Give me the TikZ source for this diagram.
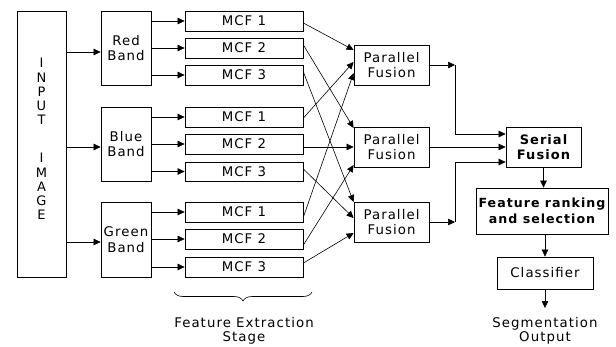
\documentclass[tikz,border=0pt]{standalone}
\usepackage{fontspec}
\setmainfont{DejaVu Sans}[LetterSpace=8]
\usetikzlibrary{arrows.meta,decorations.pathreplacing}
\begin{document}
\begin{tikzpicture}[x=1pt,y=-1pt,
  box/.style={draw, line width=0.8pt, inner sep=0pt, align=center, font=\fontsize{13.3}{15.5}\selectfont},
  mcf/.style={box, minimum width=118pt, minimum height=20pt},
  band/.style={box, minimum width=50pt, minimum height=74pt},
  pf/.style={box, minimum width=75pt, minimum height=40pt},
  lbl/.style={align=center, inner sep=0pt, font=\fontsize{13.3}{14.5}\selectfont},
  arr/.style={-{Triangle[length=7pt,width=6.5pt]}, line width=0.6pt},
  ln/.style={line width=0.6pt}]
\useasboundingbox (0,0) rectangle (616,346);
% input
\node[draw, line width=0.8pt, minimum width=49pt, minimum height=266pt, inner sep=0pt] (inp) at (41.5,144) {};
\node[lbl, font=\fontsize{13}{14.2}\selectfont] (inptxt) at (41.5,139) {I\\N\\P\\U\\T\\[24pt]I\\M\\A\\G\\E};
% bands
\node[band] (rb) at (126,48) {Red\\Band};
\node[band] (bb) at (126,144) {Blue\\Band};
\node[band, minimum height=75pt] (gb) at (126,239.5) {Green\\Band};
% MCFs
\node[mcf] (r1) at (244,21) {MCF 1};
\node[mcf] (r2) at (244,48) {MCF 2};
\node[mcf] (r3) at (244,75) {MCF 3};
\node[mcf] (b1) at (244,117) {MCF 1};
\node[mcf] (b2) at (244,144) {MCF 2};
\node[mcf, minimum height=19pt] (b3) at (244,171.5) {MCF 3};
\node[mcf] (g1) at (244,212) {MCF 1};
\node[mcf] (g2) at (244,239) {MCF 2};
\node[mcf] (g3) at (244,267) {MCF 3};
% parallel fusion
\node[pf] (p1) at (391.5,65) {Parallel\\Fusion};
\node[pf] (p2) at (391.5,147) {Parallel\\Fusion};
\node[pf] (p3) at (391.5,222) {Parallel\\Fusion};
% right column
\node[pf, font=\bfseries\fontsize{13}{15.5}\selectfont] (sf) at (543.5,147) {Serial\\Fusion};
\node[box, minimum width=132pt, minimum height=46pt, font=\bfseries\fontsize{12.6}{15.5}\selectfont] (fr) at (542,211) {Feature ranking\\and selection};
\node[box, minimum width=96pt, minimum height=32pt] (cl) at (545,273) {Classifier};
\node[lbl] (so) at (545,331) {Segmentation\\Output};
\node[lbl] (fes) at (244,331) {Feature Extraction\\Stage};
\coordinate (soT) at (545,308);
\coordinate (brL) at (174,292);
\coordinate (brR) at (312,292);
% input to bands
\draw[arr] (inp.east |- 0,52) -- (rb.west |- 0,52);
\draw[arr] (inp.east |- 0,147) -- (bb.west |- 0,147);
\draw[arr] (inp.east |- 0,242) -- (gb.west |- 0,242);
% bands to MCF
\foreach \b/\m in {rb/r1,rb/r2,rb/r3,bb/b1,bb/b2,bb/b3,gb/g1,gb/g2,gb/g3}
  \draw[arr] (\b.east |- \m.west) -- (\m.west);
% MCF to parallel fusion
\draw[arr] (r1.east |- 0,23) -- (p1.west |- 0,50);
\draw[arr] (b1.east |- 0,118) -- (p1.west |- 0,62);
\draw[arr] (g1.east |- 0,217) -- (p1.west |- 0,73);
\draw[arr] (r2.east |- 0,45) -- (p2.west |- 0,128);
\draw[arr] (b2.east |- 0,147) -- (p2.west |- 0,147);
\draw[arr] (g2.east |- 0,245) -- (p2.west |- 0,165);
\draw[arr] (r3.east |- 0,72) -- (p3.west |- 0,202);
\draw[arr] (b3.east |- 0,169) -- (p3.west |- 0,218);
\draw[arr] (g3.east |- 0,263) -- (p3.west |- 0,233);
% parallel to serial
\coordinate (j1) at (455,65);
\coordinate (j3) at (455,222);
\draw[arr] (p1.east) -- (j1);
\draw[arr] (j1) -- (455,134) -- (sf.west |- 0,134);
\draw[arr] (p2.east) -- (sf.west);
\draw[arr] (p3.east) -- (j3);
\draw[arr] (j3) -- (455,162) -- (sf.west |- 0,162);
% right column
\draw[arr] (sf.south) -- (fr.north -| sf.south);
\draw[arr] (fr.south -| cl.north) -- (cl.north);
\draw[arr] (cl.south) -- (soT);
% brace
\draw[ln, decorate, decoration={brace, mirror, amplitude=9pt}] (brL) -- (brR);
\end{tikzpicture}
\end{document}
